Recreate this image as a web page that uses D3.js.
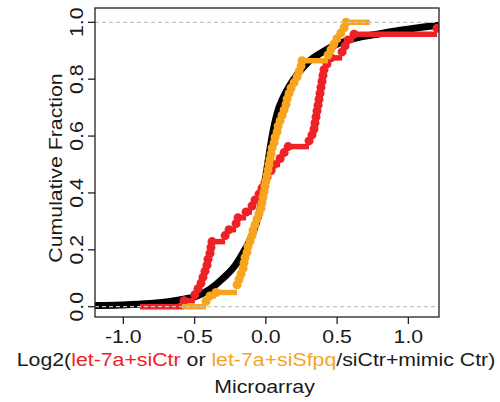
<!DOCTYPE html>
<html><head><meta charset="utf-8">
<script src="https://cdn.jsdelivr.net/npm/d3@7"></script>
<style>body{margin:0;background:#fff}svg{display:block}</style>
</head><body>
<svg id="c" width="500" height="402"></svg>
<script>
// ---- data ----
const xTicks = [-1.0, -0.5, 0.0, 0.5, 1.0];
const yTicks = [0.0, 0.2, 0.4, 0.6, 0.8, 1.0];
const xTickLabels = ["-1.0", "-0.5", "0.0", "0.5", "1.0"];
const yTickLabels = ["0.0", "0.2", "0.4", "0.6", "0.8", "1.0"];

// background (all genes) cumulative curve
const blackX = [-1.199,-1.023,-0.813,-0.673,-0.567,-0.497,-0.392,-0.300,-0.216,-0.160,-0.111,-0.069,-0.041,-0.013,0.015,0.044,0.079,0.121,0.170,0.226,0.296,0.395,0.485,0.577,0.661,0.801,0.942,1.082,1.215];
const blackF = [0.004,0.006,0.011,0.018,0.027,0.035,0.062,0.10,0.145,0.19,0.235,0.29,0.34,0.42,0.51,0.60,0.68,0.735,0.78,0.82,0.86,0.895,0.92,0.937,0.948,0.96,0.972,0.982,0.99];

// let-7a+siCtr ECDF knots
const redX = [-0.574,-0.498,-0.476,-0.455,-0.441,-0.427,-0.413,-0.406,-0.392,-0.385,-0.378,-0.286,-0.258,-0.209,-0.195,-0.139,-0.097,-0.076,-0.048,-0.027,-0.006,0.008,0.037,0.058,0.100,0.128,0.156,0.303,0.324,0.338,0.345,0.352,0.359,0.366,0.373,0.380,0.387,0.394,0.401,0.408,0.429,0.457,0.535,0.556,0.577,0.619,1.201,1.293];
const redF = [0.021,0.042,0.063,0.083,0.104,0.125,0.146,0.167,0.188,0.208,0.229,0.25,0.271,0.292,0.313,0.333,0.354,0.375,0.396,0.417,0.438,0.458,0.479,0.5,0.521,0.542,0.563,0.583,0.604,0.625,0.646,0.667,0.688,0.708,0.729,0.75,0.771,0.792,0.813,0.833,0.854,0.875,0.896,0.917,0.938,0.958,0.979,1.0];
const redExt = [-0.883, 1.6];

// let-7a+siSfpq ECDF knots
const orangeX = [-0.420,-0.392,-0.350,-0.202,-0.188,-0.174,-0.160,-0.153,-0.146,-0.132,-0.125,-0.111,-0.097,-0.090,-0.076,-0.062,-0.048,-0.034,-0.027,-0.020,-0.013,-0.006,0.001,0.008,0.015,0.022,0.029,0.037,0.044,0.058,0.065,0.079,0.086,0.100,0.114,0.128,0.142,0.149,0.163,0.177,0.198,0.219,0.233,0.247,0.254,0.436,0.457,0.477,0.498,0.526,0.549,0.563];
const orangeF = [0.019,0.038,0.050,0.077,0.096,0.115,0.135,0.154,0.173,0.192,0.212,0.231,0.25,0.269,0.288,0.308,0.327,0.346,0.365,0.385,0.404,0.423,0.442,0.462,0.481,0.5,0.519,0.538,0.558,0.577,0.596,0.615,0.635,0.654,0.673,0.692,0.712,0.731,0.75,0.769,0.788,0.808,0.827,0.846,0.865,0.885,0.904,0.923,0.942,0.962,0.981,1.0];
const orangeExt = [-0.588, 0.73];

const refLines = [0, 1];
const titleParts = [
  {t: "Log2(", c: "#1a1a1a"},
  {t: "let-7a+siCtr", c: "#ED2227"},
  {t: " or ", c: "#1a1a1a"},
  {t: "let-7a+siSfpq", c: "#F7A41F"},
  {t: "/siCtr+mimic Ctr)", c: "#1a1a1a"}
];
const subTitle = "Microarray";
const yTitle = "Cumulative Fraction";

// ---- layout ----
const L = 95, R = 439, T = 8, B = 317;
const FONT = "'Liberation Sans', Arial, Helvetica, sans-serif";
const FS = 21.3, SY = 0.9;
const RED = "#ED2227", ORANGE = "#F7A41F";

const svg = d3.select("#c");
const x = d3.scaleLinear().domain([-1.199, 1.215]).range([L, R]);
const y = d3.scaleLinear().domain([-0.0362, 1.0503]).range([B, T]);

svg.append("defs").append("clipPath").attr("id", "clip")
  .append("rect").attr("x", L).attr("y", T).attr("width", R - L).attr("height", B - T);

const plot = svg.append("g").attr("clip-path", "url(#clip)");

// black curve
plot.append("path")
  .datum(blackX.map((v, i) => [v, blackF[i]]))
  .attr("fill", "none").attr("stroke", "#000").attr("stroke-width", 7)
  .attr("stroke-linejoin", "round")
  .attr("d", d3.line().x(d => x(d[0])).y(d => y(d[1])).curve(d3.curveMonotoneX));

function ecdf(xs, fs, ext, color) {
  const g = plot.append("g");
  const segs = [[ext[0], xs[0], 0]];
  for (let i = 0; i < xs.length; i++) {
    const next = i < xs.length - 1 ? xs[i + 1] : ext[1];
    segs.push([xs[i], next, fs[i]]);
  }
  g.selectAll("line").data(segs).join("line")
    .attr("x1", d => x(d[0])).attr("x2", d => x(d[1]))
    .attr("y1", d => y(d[2])).attr("y2", d => y(d[2]))
    .attr("stroke", color).attr("stroke-width", 5.5);
  g.selectAll("circle").data(xs.map((v, i) => [v, fs[i]])).join("circle")
    .attr("cx", d => x(d[0])).attr("cy", d => y(d[1])).attr("r", 4.5)
    .attr("fill", color);
}
ecdf(redX, redF, redExt, RED);
ecdf(orangeX, orangeF, orangeExt, ORANGE);

// reference dashed lines
plot.selectAll("line.ref").data(refLines).join("line").attr("class", "ref")
  .attr("x1", L).attr("x2", R).attr("y1", d => y(d)).attr("y2", d => y(d))
  .attr("stroke", "#C4C4C4").attr("stroke-width", 1.3).attr("stroke-dasharray", "4,3");

// box
svg.append("rect").attr("x", L).attr("y", T).attr("width", R - L).attr("height", B - T)
  .attr("fill", "none").attr("stroke", "#222").attr("stroke-width", 1.3);

// x ticks
svg.selectAll("line.xt").data(xTicks).join("line").attr("class", "xt")
  .attr("x1", d => x(d)).attr("x2", d => x(d)).attr("y1", B).attr("y2", B + 7)
  .attr("stroke", "#222").attr("stroke-width", 1.3);
// y ticks
svg.selectAll("line.yt").data(yTicks).join("line").attr("class", "yt")
  .attr("y1", d => y(d)).attr("y2", d => y(d)).attr("x1", L).attr("x2", L - 7)
  .attr("stroke", "#222").attr("stroke-width", 1.3);

function label(px, py, rot, str, anchor) {
  const g = svg.append("g").attr("transform", `translate(${px},${py}) rotate(${rot}) scale(1,${SY})`);
  return g.append("text").attr("text-anchor", anchor || "middle")
    .attr("font-family", FONT).attr("font-size", FS).attr("fill", "#1a1a1a").text(str);
}
xTicks.forEach((t, i) => label(x(t), 343, 0, xTickLabels[i]));
yTicks.forEach((t, i) => label(83, y(t), -90, yTickLabels[i]));
label(62, 168, -90, yTitle);

const tg = svg.append("g").attr("transform", `translate(256,365.5) scale(1,${SY})`);
const tt = tg.append("text").attr("text-anchor", "middle")
  .attr("font-family", FONT).attr("font-size", FS);
titleParts.forEach(p => tt.append("tspan").attr("fill", p.c).text(p.t));
label(264.5, 393, 0, subTitle);
</script>
</body></html>
